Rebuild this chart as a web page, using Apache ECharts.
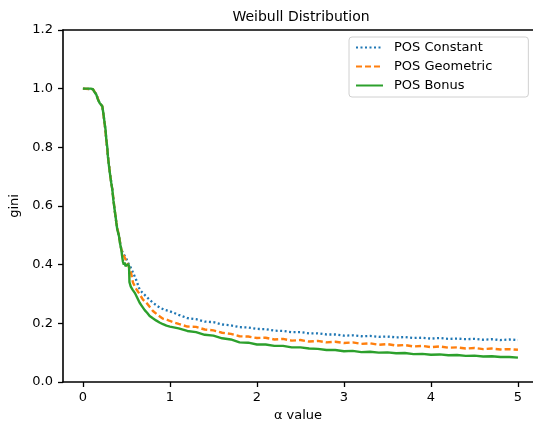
<!DOCTYPE html>
<html>
<head>
<meta charset="utf-8">
<script src="https://cdn.jsdelivr.net/npm/echarts@6/dist/echarts.min.js"></script>
<style>
html,body{margin:0;padding:0;background:#fff;}
#chart{width:533px;height:427px;}
</style>
</head>
<body>
<div id="chart"></div>
<script>
// ---- data ----
const seriesNames = ["POS Constant", "POS Geometric", "POS Bonus"];
const xTicks = [0, 1, 2, 3, 4, 5];
const yTicks = [0, 0.2, 0.4, 0.6, 0.8, 1.0, 1.2];

const tailAlpha = [1.0,1.1,1.2,1.3,1.4,1.5,1.6,1.7,1.8,1.9,2.0,2.1,2.2,2.3,2.4,2.5,2.6,2.7,2.8,2.9,3.0,
                   3.1,3.2,3.3,3.4,3.5,3.6,3.7,3.8,3.9,4.0,4.1,4.2,4.3,4.4,4.5,4.6,4.7,4.8,4.9,5.0];

const constHeadAlpha = [0.00,0.115,0.154,0.192,0.223,0.249,0.269,0.287,0.315,0.338,0.364,0.384,0.414,0.441,0.46,
                        0.48,0.50,0.52,0.55,0.577,0.61,0.652,0.692,0.75,0.805,0.885,0.95];
const constHeadGini  = [1.0,0.998,0.98,0.951,0.94,0.883,0.826,0.77,0.701,0.656,0.588,0.543,0.498,0.452,0.44,
                        0.43,0.42,0.405,0.39,0.372,0.35,0.315,0.302,0.285,0.27,0.253,0.245];
const constTailGini  = [.241,.229,.218,.214,.206,.204,.196,.193,.187,.186,.181,.180,.175,.174,.170,.170,.166,.166,.162,.162,
                        .158,.159,.156,.157,.154,.155,.152,.153,.150,.151,.148,.150,.147,.148,.146,.147,.144,.146,.143,.145,.143];

const geoHeadAlpha = [0.00,0.115,0.154,0.192,0.223,0.249,0.269,0.287,0.315,0.338,0.364,0.384,0.414,0.441,0.46,
                      0.48,0.50,0.517,0.538,0.555,0.575,0.615,0.65,0.69,0.73,0.805,0.87,0.92,0.96];
const geoHeadGini  = [1.0,0.998,0.98,0.951,0.94,0.883,0.826,0.77,0.701,0.656,0.588,0.543,0.498,0.452,0.435,
                      0.425,0.41,0.401,0.395,0.37,0.339,0.316,0.30,0.281,0.27,0.242,0.226,0.216,0.213];
const geoTailGini  = [.208,.198,.189,.188,.179,.176,.168,.164,.156,.155,.150,.151,.145,.147,.141,.143,.138,.140,.135,.137,
                      .133,.135,.130,.132,.127,.129,.124,.126,.121,.123,.119,.121,.117,.118,.114,.116,.112,.114,.111,.112,.110];

const bonusHeadAlpha = [0.00,0.03,0.06,0.09,0.115,0.13,0.154,0.17,0.192,0.21,0.223,0.24,0.249,0.26,0.269,
                        0.28,0.287,0.30,0.315,0.325,0.338,0.35,0.364,0.375,0.384,0.395,0.414,0.425,0.441,0.45,
                        0.46,0.47,0.479,0.49,0.50,0.51,0.52,0.53,0.535,0.55,0.556,0.57,0.596,0.62,0.652,
                        0.68,0.71,0.74,0.767,0.80,0.84,0.88,0.92,0.96];
const bonusHeadGini  = [1.0,1.0,1.0,1.0,0.998,0.99,0.98,0.965,0.951,0.945,0.94,0.905,0.883,0.86,0.826,
                        0.80,0.77,0.735,0.701,0.68,0.656,0.62,0.588,0.565,0.543,0.52,0.498,0.475,0.452,0.43,
                        0.41,0.40,0.407,0.395,0.40,0.398,0.402,0.395,0.34,0.325,0.33,0.315,0.304,0.29,0.27,
                        0.258,0.245,0.235,0.225,0.218,0.21,0.203,0.197,0.192];
const bonusTailGini  = [.189,.183,.174,.170,.161,.158,.149,.145,.135,.134,.128,.128,.123,.123,.118,.118,.114,.113,.109,.109,
                        .105,.106,.102,.103,.100,.101,.098,.099,.095,.096,.093,.094,.091,.092,.089,.090,.087,.088,.085,.085,.083];

function pairs(xs, ys) { return xs.map((x, i) => [x, ys[i]]); }
const constData = pairs(constHeadAlpha, constHeadGini).concat(pairs(tailAlpha, constTailGini));
const geoData = pairs(geoHeadAlpha, geoHeadGini).concat(pairs(tailAlpha, geoTailGini));
const bonusData = pairs(bonusHeadAlpha, bonusHeadGini).concat(pairs(tailAlpha, bonusTailGini));

const FONT = "DejaVu Sans";
const INK = '#000';
const X_MIN = -0.229, X_MAX = 5.173;
const chart = echarts.init(document.getElementById('chart'), null, {renderer: 'canvas'});
chart.setOption({
  animation: false,
  backgroundColor: '#fff',
  title: {
    text: 'Weibull Distribution',
    left: 301, top: 10, textAlign: 'center', padding: 0,
    textStyle: {fontFamily: FONT, fontSize: 14, fontWeight: 'normal', color: INK}
  },
  legend: {
    data: seriesNames,
    orient: 'vertical',
    left: 349, top: 37,
    itemWidth: 27, itemHeight: 14, itemGap: 6,
    padding: [4, 36, 5, 6],
    backgroundColor: '#fff',
    borderColor: '#d0d0d0', borderWidth: 1, borderRadius: 3,
    itemStyle: {opacity: 0},
    textStyle: {fontFamily: FONT, fontSize: 13, color: INK, padding: [0, 0, 0, 6]}
  },
  grid: {
    left: 63, top: 30, right: 0, height: 353
  },
  xAxis: [{
    type: 'value', min: X_MIN, max: X_MAX,
    name: 'α value', nameLocation: 'middle', nameGap: 27,
    nameTextStyle: {fontFamily: FONT, fontSize: 13, color: INK},
    axisLine: {show: true, onZero: false, lineStyle: {color: INK, width: 1.6}},
    axisTick: {show: true, length: 5, inside: false, customValues: xTicks, lineStyle: {color: INK, width: 1.3}},
    axisLabel: {customValues: xTicks, margin: 9, fontFamily: FONT, fontSize: 13, color: INK,
                formatter: v => String(v)},
    splitLine: {show: false}
  }, {
    type: 'value', position: 'top', min: X_MIN, max: X_MAX,
    axisLine: {show: true, onZero: false, lineStyle: {color: INK, width: 1.6}},
    axisTick: {show: false}, axisLabel: {show: false}, splitLine: {show: false}
  }],
  yAxis: {
    type: 'value', min: 0, max: 1.2, interval: 0.2,
    name: 'gini', nameLocation: 'middle', nameGap: 40, nameRotate: 90,
    nameTextStyle: {fontFamily: FONT, fontSize: 13, color: INK},
    axisLine: {show: true, onZero: false, lineStyle: {color: INK, width: 1.6}},
    axisTick: {show: true, length: 5, inside: false, lineStyle: {color: INK, width: 1.3}},
    axisLabel: {margin: 10, fontFamily: FONT, fontSize: 13, color: INK,
                formatter: v => v.toFixed(1)},
    splitLine: {show: false}
  },
  series: [
    {name: seriesNames[0], type: 'line', data: constData, symbol: 'none', z: 2,
     itemStyle: {color: '#1f77b4'},
     lineStyle: {color: '#1f77b4', width: 2.3, type: [2, 2.5]}},
    {name: seriesNames[1], type: 'line', data: geoData, symbol: 'none', z: 3,
     itemStyle: {color: '#ff7f0e'},
     lineStyle: {color: '#ff7f0e', width: 2.4, type: [6, 3]}},
    {name: seriesNames[2], type: 'line', data: bonusData, symbol: 'none', z: 4,
     itemStyle: {color: '#2ca02c'},
     lineStyle: {color: '#2ca02c', width: 2.4}}
  ]
});
</script>
</body>
</html>
